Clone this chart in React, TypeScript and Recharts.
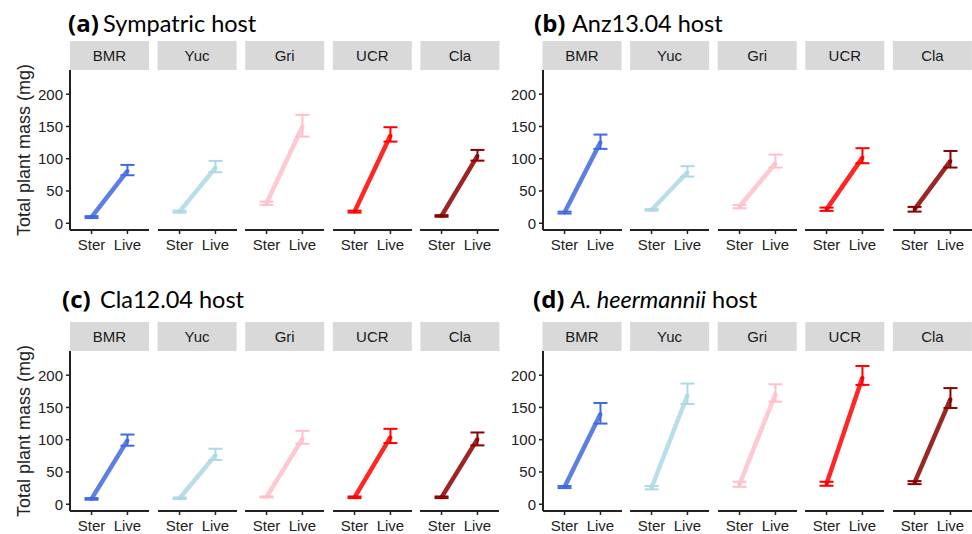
import React from "react";
import { LineChart, Line, XAxis, YAxis, ErrorBar } from "recharts";

const populations = ["BMR", "Yuc", "Gri", "UCR", "Cla"];
const popColors = ["#4169E1", "#ADD8E6", "#FFC0CB", "#FF0000", "#8B0000"];
const treatments = ["Ster", "Live"];
const yTicks = [0, 50, 100, 150, 200];
const panelTags = ["(a)", "(b)", "(c)", "(d)"];
const panelHosts = ["Sympatric host", "Anz13.04 host", "Cla12.04 host", "host"];

// each entry: [mean, lower, upper] in mg, order follows populations
const sympatricSter = [[9.5, 8, 11], [18, 16.5, 19.5], [31, 28.4, 33.5], [18, 16.5, 19.5], [11.3, 10, 12.5]];
const sympatricLive = [[81, 74.4, 90.4], [86, 79, 96.6], [150, 134.3, 167.9], [136, 126.5, 148.8], [104.5, 97, 113.6]];
const anzSter = [[16.5, 15, 18], [20.6, 19.5, 21.8], [26, 23.2, 28.4], [21.5, 19.1, 24.2], [21.5, 18, 25.3]];
const anzLive = [[125.6, 115.2, 137.4], [79, 72.3, 88.4], [93, 86.3, 106.4], [101.7, 93, 116.3], [96.6, 86.3, 112]];
const claSter = [[8.2, 7, 9.5], [9.2, 8, 10.5], [11.2, 10.5, 12], [10.7, 9.5, 12], [10.7, 9.5, 12]];
const claLive = [[99, 90.7, 108], [76, 68.6, 86], [101.5, 93.8, 113.8], [104, 94.8, 116.9], [101, 91.2, 111.2]];
const heermanniiSter = [[26.6, 25, 28.2], [25.5, 23, 28.2], [31, 27, 34.8], [31.5, 28.6, 34.8], [33.5, 31.2, 35.8]];
const heermanniiLive = [[140, 125, 156.9], [169, 155.4, 187], [170.8, 159, 186], [196.3, 185, 214.3], [163, 149.2, 180]];

const panelData = [
  [sympatricSter, sympatricLive],
  [anzSter, anzLive],
  [claSter, claLive],
  [heermanniiSter, heermanniiLive],
];

// layout
const panelLeft = [70, 542.5, 70, 542.5];
const stripTop = [41, 41, 322, 322];
const tagX = [68, 534, 62, 533];
const hostX = [103, 572, 100, 571];
const titleBase = [31.5, 31.5, 308, 308];
const STRIP_H = 29;
const PLOT_H = 160;
const FACET_W = 79;
const STEP = 87.6;
const Y_W = 50;
const X_H = 30;
const INK = "#222";
const FONT = "'Liberation Sans', Arial, sans-serif";

function facetRows(ster: number[], live: number[]) {
  return [ster, live].map((v, i) => ({
    x: i + 1,
    mean: v[0],
    err: [v[0] - v[1], v[2] - v[0]],
  }));
}

function Facet({ rows, color, showY }: { rows: any[]; color: string; showY: boolean }) {
  return (
    <LineChart
      width={showY ? Y_W + FACET_W : FACET_W}
      height={PLOT_H + X_H}
      data={rows}
      margin={{ top: 0, right: 0, bottom: 0, left: 0 }}
      style={{ fontFamily: FONT }}
    >
      <XAxis
        dataKey="x"
        type="number"
        domain={[0.4, 2.6]}
        ticks={[1, 2]}
        interval={0}
        allowDataOverflow
        tickFormatter={(v: number) => treatments[v - 1]}
        axisLine={{ stroke: INK, strokeWidth: 2 }}
        tickLine={{ stroke: INK, strokeWidth: 1.5 }}
        tickSize={4}
        tickMargin={5}
        height={X_H}
        tick={{ fontSize: 15, fill: INK }}
      />
      <YAxis
        type="number"
        domain={[-10.5, 237.5]}
        ticks={yTicks}
        interval={0}
        allowDataOverflow
        hide={!showY}
        width={Y_W}
        axisLine={{ stroke: INK, strokeWidth: 2 }}
        tickLine={{ stroke: INK, strokeWidth: 1.5 }}
        tickSize={4}
        tickMargin={3}
        tick={{ fontSize: 15, fill: INK }}
      />
      <Line
        dataKey="mean"
        stroke={color}
        strokeWidth={4.5}
        strokeOpacity={0.85}
        dot={{ r: 1.5, fill: color, stroke: color, strokeWidth: 1 }}
        isAnimationActive={false}
      >
        <ErrorBar dataKey="err" direction="y" width={7} strokeWidth={2} stroke={color} />
      </Line>
    </LineChart>
  );
}

export default function App() {
  return (
    <div style={{ position: "absolute", left: 0, top: 0, width: 972, height: 534, background: "#fff" }}>
      <svg width={972} height={534} style={{ position: "absolute", left: 0, top: 0 }}>
        {panelTags.map((tag, p) => (
          <g key={tag}>
            <text x={tagX[p]} y={titleBase[p]} fontFamily="'Open Sans', sans-serif" fontWeight="bold" fontSize={24} fill="#000">
              {tag}
            </text>
            <text x={hostX[p]} y={titleBase[p]} fontFamily="Lato, sans-serif" fontSize={23.5} fill="#000">
              {p === 3 ? (
                <>
                  <tspan fontStyle="italic">A. heermannii</tspan>
                  <tspan> {panelHosts[p]}</tspan>
                </>
              ) : (
                panelHosts[p]
              )}
            </text>
          </g>
        ))}
        {[0, 2].map((p) => {
          const cy = stripTop[p] + STRIP_H + PLOT_H / 2;
          return (
            <text
              key={p}
              transform={`translate(30, ${cy}) rotate(-90)`}
              textAnchor="middle"
              fontFamily={FONT}
              fontSize={18}
              fill={INK}
            >
              Total plant mass (mg)
            </text>
          );
        })}
        {panelTags.map((tag, p) =>
          populations.map((pop, i) => {
            const x = panelLeft[p] + i * STEP;
            return (
              <g key={tag + pop}>
                <rect x={x} y={stripTop[p]} width={FACET_W} height={STRIP_H} fill="#D9D9D9" />
                <text
                  x={x + FACET_W / 2}
                  y={stripTop[p] + STRIP_H / 2 + 5.5}
                  textAnchor="middle"
                  fontFamily={FONT}
                  fontSize={15}
                  fill="#1A1A1A"
                >
                  {pop}
                </text>
              </g>
            );
          })
        )}
      </svg>
      {panelData.map(([ster, live], p) =>
        populations.map((pop, i) => {
          const x = panelLeft[p] + i * STEP;
          const showY = i === 0;
          return (
            <div
              key={p + pop}
              style={{ position: "absolute", left: showY ? x - Y_W : x, top: stripTop[p] + STRIP_H }}
            >
              <Facet rows={facetRows(ster[i], live[i])} color={popColors[i]} showY={showY} />
            </div>
          );
        })
      )}
    </div>
  );
}
